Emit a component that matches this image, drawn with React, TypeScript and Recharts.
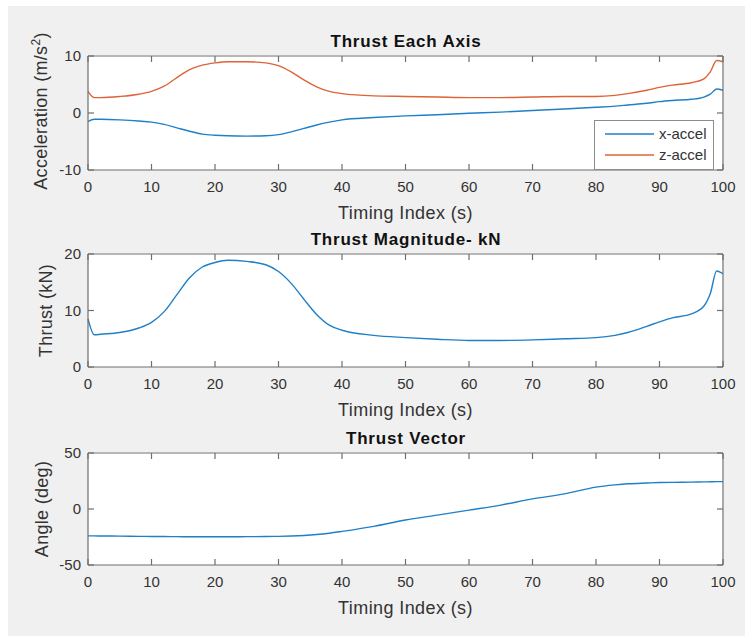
import React from 'react';
import { LineChart, Line, XAxis, YAxis, Legend } from 'recharts';

const timeIndex = [0, 1, 2, 5, 8, 10, 12, 14, 16, 18, 20, 22, 25, 28, 30, 32, 34, 36, 38, 40, 45, 50, 55, 60, 65, 70, 75, 80, 83, 85, 88, 90, 92, 95, 97, 98, 99, 100];
const xAccel = [-1.5, -1.1, -1.1, -1.2, -1.4, -1.6, -2.0, -2.6, -3.2, -3.7, -3.9, -4.0, -4.05, -4.0, -3.8, -3.3, -2.7, -2.1, -1.6, -1.2, -0.8, -0.5, -0.3, -0.05, 0.15, 0.45, 0.7, 1.0, 1.2, 1.4, 1.7, 2.0, 2.2, 2.4, 2.8, 3.3, 4.2, 4.0];
const zAccel = [3.8, 2.7, 2.7, 2.9, 3.3, 3.8, 4.7, 6.2, 7.6, 8.4, 8.8, 9.0, 9.0, 8.8, 8.3, 7.2, 5.8, 4.6, 3.8, 3.4, 3.0, 2.9, 2.8, 2.7, 2.7, 2.8, 2.9, 2.9, 3.1, 3.4, 4.0, 4.5, 4.9, 5.3, 6.0, 7.2, 9.2, 9.0];
const thrust = [8.5, 5.7, 5.8, 6.1, 6.9, 7.9, 9.8, 12.8, 15.8, 17.7, 18.5, 18.9, 18.7, 18.1, 16.9, 14.8, 12.0, 9.3, 7.4, 6.5, 5.6, 5.2, 4.9, 4.7, 4.7, 4.8, 5.0, 5.2, 5.6, 6.1, 7.2, 8.0, 8.7, 9.4, 10.8, 13.0, 17.0, 16.5];
const angle = [-24.0, -24.0, -24.1, -24.2, -24.4, -24.5, -24.6, -24.7, -24.8, -24.8, -24.8, -24.8, -24.7, -24.6, -24.4, -24.1, -23.6, -22.8, -21.6, -20.0, -15.5, -9.8, -5.5, -1.0, 3.5, 9.0, 13.5, 19.5, 21.5, 22.5, 23.2, 23.6, 23.8, 24.0, 24.2, 24.3, 24.4, 24.4];

const xTicks = [0, 10, 20, 30, 40, 50, 60, 70, 80, 90, 100];
const accelTicks = [-10, 0, 10];
const thrustTicks = [0, 10, 20];
const angleTicks = [-50, 0, 50];

const data = timeIndex.map((t, i) => ({
  t,
  xAccel: xAccel[i],
  zAccel: zAccel[i],
  thrust: thrust[i],
  angle: angle[i],
}));

const W = 745;
const H = 636;
const LEFT = 88;
const RIGHT = 724;
const FONT = "'Liberation Sans', Arial, Helvetica, sans-serif";
const BOX = '#6e6e6e';
const TEXT = '#333333';
const BLUE = '#1f80c8';
const ORANGE = '#de6336';

const tickStyle = { fill: TEXT, fontSize: 15, fontFamily: FONT };
const axisLineStyle = { stroke: BOX, strokeWidth: 1.2 };
const tickLineStyle = { stroke: BOX, strokeWidth: 1.2 };

const XTitle = (props: any) => {
  const { viewBox, value } = props;
  const cx = viewBox.x + viewBox.width / 2;
  return (
    <text x={cx} y={viewBox.y + 49} textAnchor="middle" fill={TEXT} fontSize={18} letterSpacing={0.4} fontFamily={FONT}>
      {value}
    </text>
  );
};

const YTitle = (props: any) => {
  const { viewBox, value, x0, sup } = props;
  const cy = viewBox.y + viewBox.height / 2 - (sup ? 2 : 0);
  return (
    <text x={x0} y={cy} transform={`rotate(-90, ${x0}, ${cy})`} textAnchor="middle" fill={TEXT} fontSize={18} letterSpacing={0.3} fontFamily={FONT}>
      {value}
      {sup && (
        <>
          <tspan dy={-7} fontSize={12}>{sup}</tspan>
          <tspan dy={7}>)</tspan>
        </>
      )}
    </text>
  );
};

const renderLegend = (props: any) => (
  <div
    style={{
      position: 'relative',
      width: 118,
      height: 48,
      border: '1px solid #8c8c8c',
      background: '#fff',
      fontFamily: FONT,
      fontSize: 15,
      color: TEXT,
    }}
  >
    {props.payload
      .filter((entry: any) => entry.type !== 'none')
      .map((entry: any, i: number) => (
        <div key={i} style={{ position: 'absolute', left: 10, top: 4 + i * 21, height: 18, display: 'flex', alignItems: 'center' }}>
          <svg width={49} height={4} style={{ display: 'block' }}>
            <line x1={0} y1={2} x2={49} y2={2} stroke={entry.color} strokeWidth={1.4} />
          </svg>
          <span style={{ marginLeft: 5, lineHeight: '18px' }}>{entry.value}</span>
        </div>
      ))}
  </div>
);

type PlotProps = {
  top: number;
  bottom: number;
  yDomain: [number, number];
  yTicks: number[];
  title: string;
  ylabel: string;
  ylabelX: number;
  boxKey: string;
  sup?: string;
  children: React.ReactNode;
};

const Subplot = ({ top, bottom, yDomain, yTicks, title, ylabel, ylabelX, boxKey, sup, children }: PlotProps) => (
  <>
    <div style={{ position: 'absolute', left: LEFT, top, width: RIGHT - LEFT, height: bottom - top, background: '#fff' }} />
    <div
      style={{
        position: 'absolute',
        left: 0,
        width: W,
        top: top - 22,
        textAlign: 'center',
        paddingLeft: LEFT,
        paddingRight: W - RIGHT,
        boxSizing: 'border-box',
        fontFamily: FONT,
        fontSize: 17,
        fontWeight: 'bold',
        letterSpacing: 0.8,
        color: '#111',
        lineHeight: '18px',
      }}
    >
      {title}
    </div>
    <div style={{ position: 'absolute', left: 0, top: 0 }}>
      <LineChart width={W} height={H} data={data} margin={{ top, right: W - RIGHT, bottom: H - bottom - 30, left: 0 }}>
        <XAxis
          xAxisId={0}
          dataKey="t"
          type="number"
          domain={[0, 100]}
          ticks={xTicks}
          height={30}
          axisLine={axisLineStyle}
          tickLine={tickLineStyle}
          tickSize={-6}
          tickMargin={17}
          tick={tickStyle}
          label={<XTitle value="Timing Index (s)" />}
        />
        <XAxis
          xAxisId="top"
          orientation="top"
          dataKey="t"
          type="number"
          domain={[0, 100]}
          ticks={xTicks}
          height={1}
          axisLine={axisLineStyle}
          tickLine={tickLineStyle}
          tickSize={-6}
          tickFormatter={() => ''}
        />
        <YAxis
          yAxisId={0}
          type="number"
          domain={yDomain}
          ticks={yTicks}
          width={LEFT}
          axisLine={axisLineStyle}
          tickLine={tickLineStyle}
          tickSize={-6}
          tickMargin={13}
          tick={tickStyle}
          allowDataOverflow
          label={<YTitle value={ylabel} x0={ylabelX} sup={sup} />}
        />
        <YAxis
          yAxisId="right"
          orientation="right"
          type="number"
          domain={yDomain}
          ticks={yTicks}
          width={1}
          axisLine={axisLineStyle}
          tickLine={tickLineStyle}
          tickSize={-6}
          tickFormatter={() => ''}
        />
        {children}
        {/* invisible series so the top and right box axes get drawn */}
        <Line
          xAxisId="top"
          yAxisId="right"
          dataKey={boxKey}
          stroke="none"
          dot={false}
          activeDot={false}
          legendType="none"
          isAnimationActive={false}
        />
      </LineChart>
    </div>
  </>
);

export default function App() {
  return (
    <div style={{ position: 'absolute', left: 0, top: 0, width: W, height: H, background: '#ffffff', overflow: 'hidden' }}>
      <div style={{ position: 'absolute', left: 8, top: 6, right: 0, bottom: 0, background: '#f0f0f0' }} />
      <Subplot top={55} bottom={170} yDomain={[-10, 10]} yTicks={accelTicks} title="Thrust Each Axis" ylabel="Acceleration (m/s" sup="2" ylabelX={47} boxKey="xAccel">
        <Line xAxisId={0} yAxisId={0} type="monotone" dataKey="xAccel" name="x-accel" stroke={BLUE} strokeWidth={1.4} dot={false} isAnimationActive={false} />
        <Line xAxisId={0} yAxisId={0} type="monotone" dataKey="zAccel" name="z-accel" stroke={ORANGE} strokeWidth={1.4} dot={false} isAnimationActive={false} />
        <Legend
          layout="vertical"
          align="center"
          verticalAlign="middle"
          content={renderLegend}
          wrapperStyle={{ position: 'absolute', left: 594, top: 120, width: 120, height: 50 }}
        />
      </Subplot>
      <Subplot top={253} bottom={367} yDomain={[0, 20]} yTicks={thrustTicks} title="Thrust Magnitude- kN" ylabel="Thrust (kN)" ylabelX={52} boxKey="thrust">
        <Line xAxisId={0} yAxisId={0} type="monotone" dataKey="thrust" name="thrust" stroke={BLUE} strokeWidth={1.4} dot={false} isAnimationActive={false} />
      </Subplot>
      <Subplot top={452} bottom={565} yDomain={[-50, 50]} yTicks={angleTicks} title="Thrust Vector" ylabel="Angle (deg)" ylabelX={48} boxKey="angle">
        <Line xAxisId={0} yAxisId={0} type="monotone" dataKey="angle" name="angle" stroke={BLUE} strokeWidth={1.4} dot={false} isAnimationActive={false} />
      </Subplot>
    </div>
  );
}
